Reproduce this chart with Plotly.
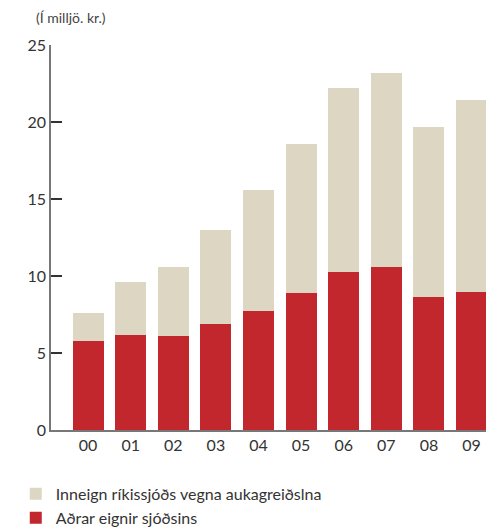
import plotly.graph_objects as go

# Years (two-digit labels) and values in ISK billions
years = ["00", "01", "02", "03", "04", "05", "06", "07", "08", "09"]
adrar_eignir = [5.78, 6.17, 6.10, 6.88, 7.73, 8.90, 10.26, 10.58, 8.64, 8.96]
inneign = [1.82, 3.44, 4.48, 6.11, 7.85, 9.67, 11.94, 12.60, 11.04, 12.47]
y_ticks = [0, 5, 10, 15, 20, 25]

RED = "#C1272D"
BEIGE = "#DDD6C3"
FONT = "Lato, 'Noto Sans', sans-serif"

fig = go.Figure()
fig.add_trace(go.Bar(
    x=years, y=adrar_eignir, name="Aðrar eignir sjóðsins",
    marker=dict(color=RED, line=dict(width=0)), legendrank=2,
))
fig.add_trace(go.Bar(
    x=years, y=inneign, name="Inneign ríkissjóðs vegna aukagreiðslna",
    marker=dict(color=BEIGE, line=dict(width=0)), legendrank=1,
))

fig.update_layout(
    width=486, height=530,
    margin=dict(l=51, r=0, t=45, b=100, autoexpand=False),
    barmode="stack",
    bargap=0.27,
    plot_bgcolor="white",
    paper_bgcolor="white",
    font=dict(family=FONT, size=16, color="#333333"),
    showlegend=True,
    legend=dict(
        x=-0.081, xanchor="left",
        y=-0.122, yanchor="top",
        traceorder="normal",
        font=dict(size=16, color="#333333"),
        bgcolor="rgba(0,0,0,0)",
    ),
    xaxis=dict(
        type="category",
        range=[-0.87, 9.34],
        showline=True, linecolor="#777777", linewidth=1.5,
        ticks="", showgrid=False, zeroline=False,
        tickfont=dict(size=16, color="#333333"),
    ),
    yaxis=dict(
        range=[0, 25],
        tickvals=y_ticks,
        ticks="inside", ticklen=11, tickwidth=1.5, tickcolor="#333333",
        showline=True, linecolor="#777777", linewidth=1.5,
        showgrid=False, zeroline=False,
        tickfont=dict(size=16, color="#333333"),
    ),
    annotations=[dict(
        text="(Í milljö. kr.)",
        xref="paper", yref="paper",
        x=-0.038, y=1.0, xanchor="left", yanchor="bottom", yshift=17,
        showarrow=False,
        font=dict(family=FONT, size=14, color="#444444"),
    )],
)

fig.write_html("out.html")
